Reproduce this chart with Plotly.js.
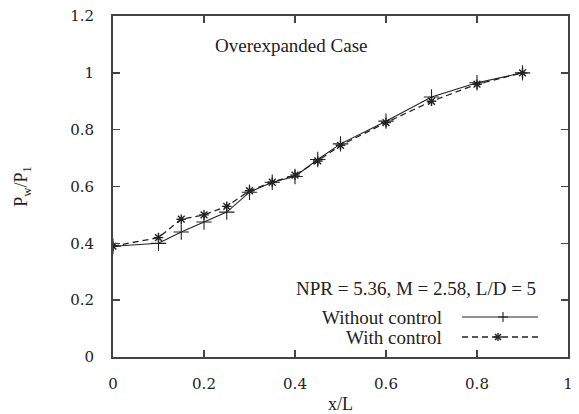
<!DOCTYPE html>
<html>
<head>
<meta charset="utf-8">
<script src="https://cdn.plot.ly/plotly-3.0.1.min.js"></script>
<style>html,body{margin:0;padding:0;background:#fff;}#chart{width:579px;height:414px;}</style>
</head>
<body>
<div id="chart"></div>
<script>
// ---- data ----
const xPositions = [0, 0.1, 0.15, 0.2, 0.25, 0.3, 0.35, 0.4, 0.45, 0.5, 0.6, 0.7, 0.8, 0.9];
const pressureWithout = [0.39, 0.40, 0.44, 0.475, 0.51, 0.58, 0.615, 0.635, 0.695, 0.75, 0.83, 0.915, 0.965, 1.0];
const pressureWith = [0.39, 0.42, 0.485, 0.50, 0.53, 0.585, 0.615, 0.64, 0.69, 0.745, 0.825, 0.90, 0.96, 1.0];
const seriesNames = ["Without control", "With control"];
const caseLabel = "Overexpanded Case";
const conditionLabel = "NPR = 5.36, M = 2.58, L/D = 5";

// ---- layout helpers ----
const W = 579, H = 414;
const M = {l: 113, r: 11, t: 16, b: 57};
const pw = W - M.l - M.r, ph = H - M.t - M.b;
const px = x => (x - M.l) / pw;
const py = y => (H - M.b - y) / ph;
const ink = '#222';
const serif = 'Liberation Serif, Times New Roman, serif';

const traces = [
  {x: xPositions, y: pressureWithout, name: seriesNames[0], mode: 'lines+markers',
   line: {color: ink, width: 1.1},
   marker: {symbol: 'cross-thin-open', size: 11, color: ink, line: {width: 1.1, color: ink}},
   showlegend: false},
  {x: xPositions, y: pressureWith, name: seriesNames[1], mode: 'lines+markers',
   line: {color: ink, width: 1.3, dash: '6px,4px'},
   marker: {symbol: 'asterisk-open', size: 8, color: ink, line: {width: 1.4, color: ink}},
   showlegend: false}
];

// manual legend (text left of sample, as in gnuplot)
const legendRows = [317, 337];
const sampleX0 = 462, sampleX1 = 538;
const shapes = [];
shapes.push({type: 'line', xref: 'paper', yref: 'paper', x0: px(sampleX0), x1: px(sampleX1), y0: py(legendRows[0]), y1: py(legendRows[0]), line: {color: ink, width: 1.1}});
const pc = 503, ps = 5;
shapes.push({type: 'line', xref: 'paper', yref: 'paper', x0: px(pc - ps), x1: px(pc + ps), y0: py(legendRows[0]), y1: py(legendRows[0]), line: {color: ink, width: 1.1}});
shapes.push({type: 'line', xref: 'paper', yref: 'paper', x0: px(pc), x1: px(pc), y0: py(legendRows[0] - ps), y1: py(legendRows[0] + ps), line: {color: ink, width: 1.1}});
shapes.push({type: 'line', xref: 'paper', yref: 'paper', x0: px(sampleX0), x1: px(sampleX1), y0: py(legendRows[1]), y1: py(legendRows[1]), line: {color: ink, width: 1.3, dash: '6px,4px'}});
const sc = 498, ss = 4;
[[ss, 0], [0, ss], [ss * 0.75, ss * 0.75], [ss * 0.75, -ss * 0.75]].forEach(([dx, dy]) => {
  shapes.push({type: 'line', xref: 'paper', yref: 'paper', x0: px(sc - dx), x1: px(sc + dx), y0: py(legendRows[1] - dy), y1: py(legendRows[1] + dy), line: {color: ink, width: 1.4}});
});

const annotations = [
  {text: caseLabel, xref: 'paper', yref: 'paper', x: px(213), y: py(45), xanchor: 'left', yanchor: 'middle', showarrow: false, font: {family: serif, size: 19, color: ink}},
  {text: conditionLabel, xref: 'paper', yref: 'paper', x: px(538), y: py(288), xanchor: 'right', yanchor: 'middle', showarrow: false, font: {family: serif, size: 19, color: ink}},
  {text: seriesNames[0], xref: 'paper', yref: 'paper', x: px(444), y: py(legendRows[0]), xanchor: 'right', yanchor: 'middle', showarrow: false, font: {family: serif, size: 19, color: ink}},
  {text: seriesNames[1], xref: 'paper', yref: 'paper', x: px(444), y: py(legendRows[1]), xanchor: 'right', yanchor: 'middle', showarrow: false, font: {family: serif, size: 19, color: ink}}
];

const axisCommon = {
  showline: true, linecolor: '#444', linewidth: 2, mirror: 'allticks',
  ticks: 'inside', ticklen: 7, tickwidth: 1.5, tickcolor: '#444',
  showgrid: false, zeroline: false,
  tickfont: {family: 'DejaVu Serif, serif', size: 15, color: ink}
};

const layout = {
  width: W, height: H,
  margin: M,
  paper_bgcolor: '#fff', plot_bgcolor: '#fff',
  showlegend: false,
  xaxis: Object.assign({}, axisCommon, {
    range: [0, 1], dtick: 0.2, tick0: 0, ticklabelstandoff: 12,
    title: {text: 'x/L', font: {family: serif, size: 18, color: ink}, standoff: 14}
  }),
  yaxis: Object.assign({}, axisCommon, {
    range: [0, 1.2], dtick: 0.2, tick0: 0, ticklabelstandoff: 14,
    title: {text: 'P<sub>w</sub>/P<sub>1</sub>', font: {family: serif, size: 18, color: ink}, standoff: 38}
  }),
  shapes: shapes,
  annotations: annotations
};

Plotly.newPlot('chart', traces, layout, {displayModeBar: false, staticPlot: true});
</script>
</body>
</html>
